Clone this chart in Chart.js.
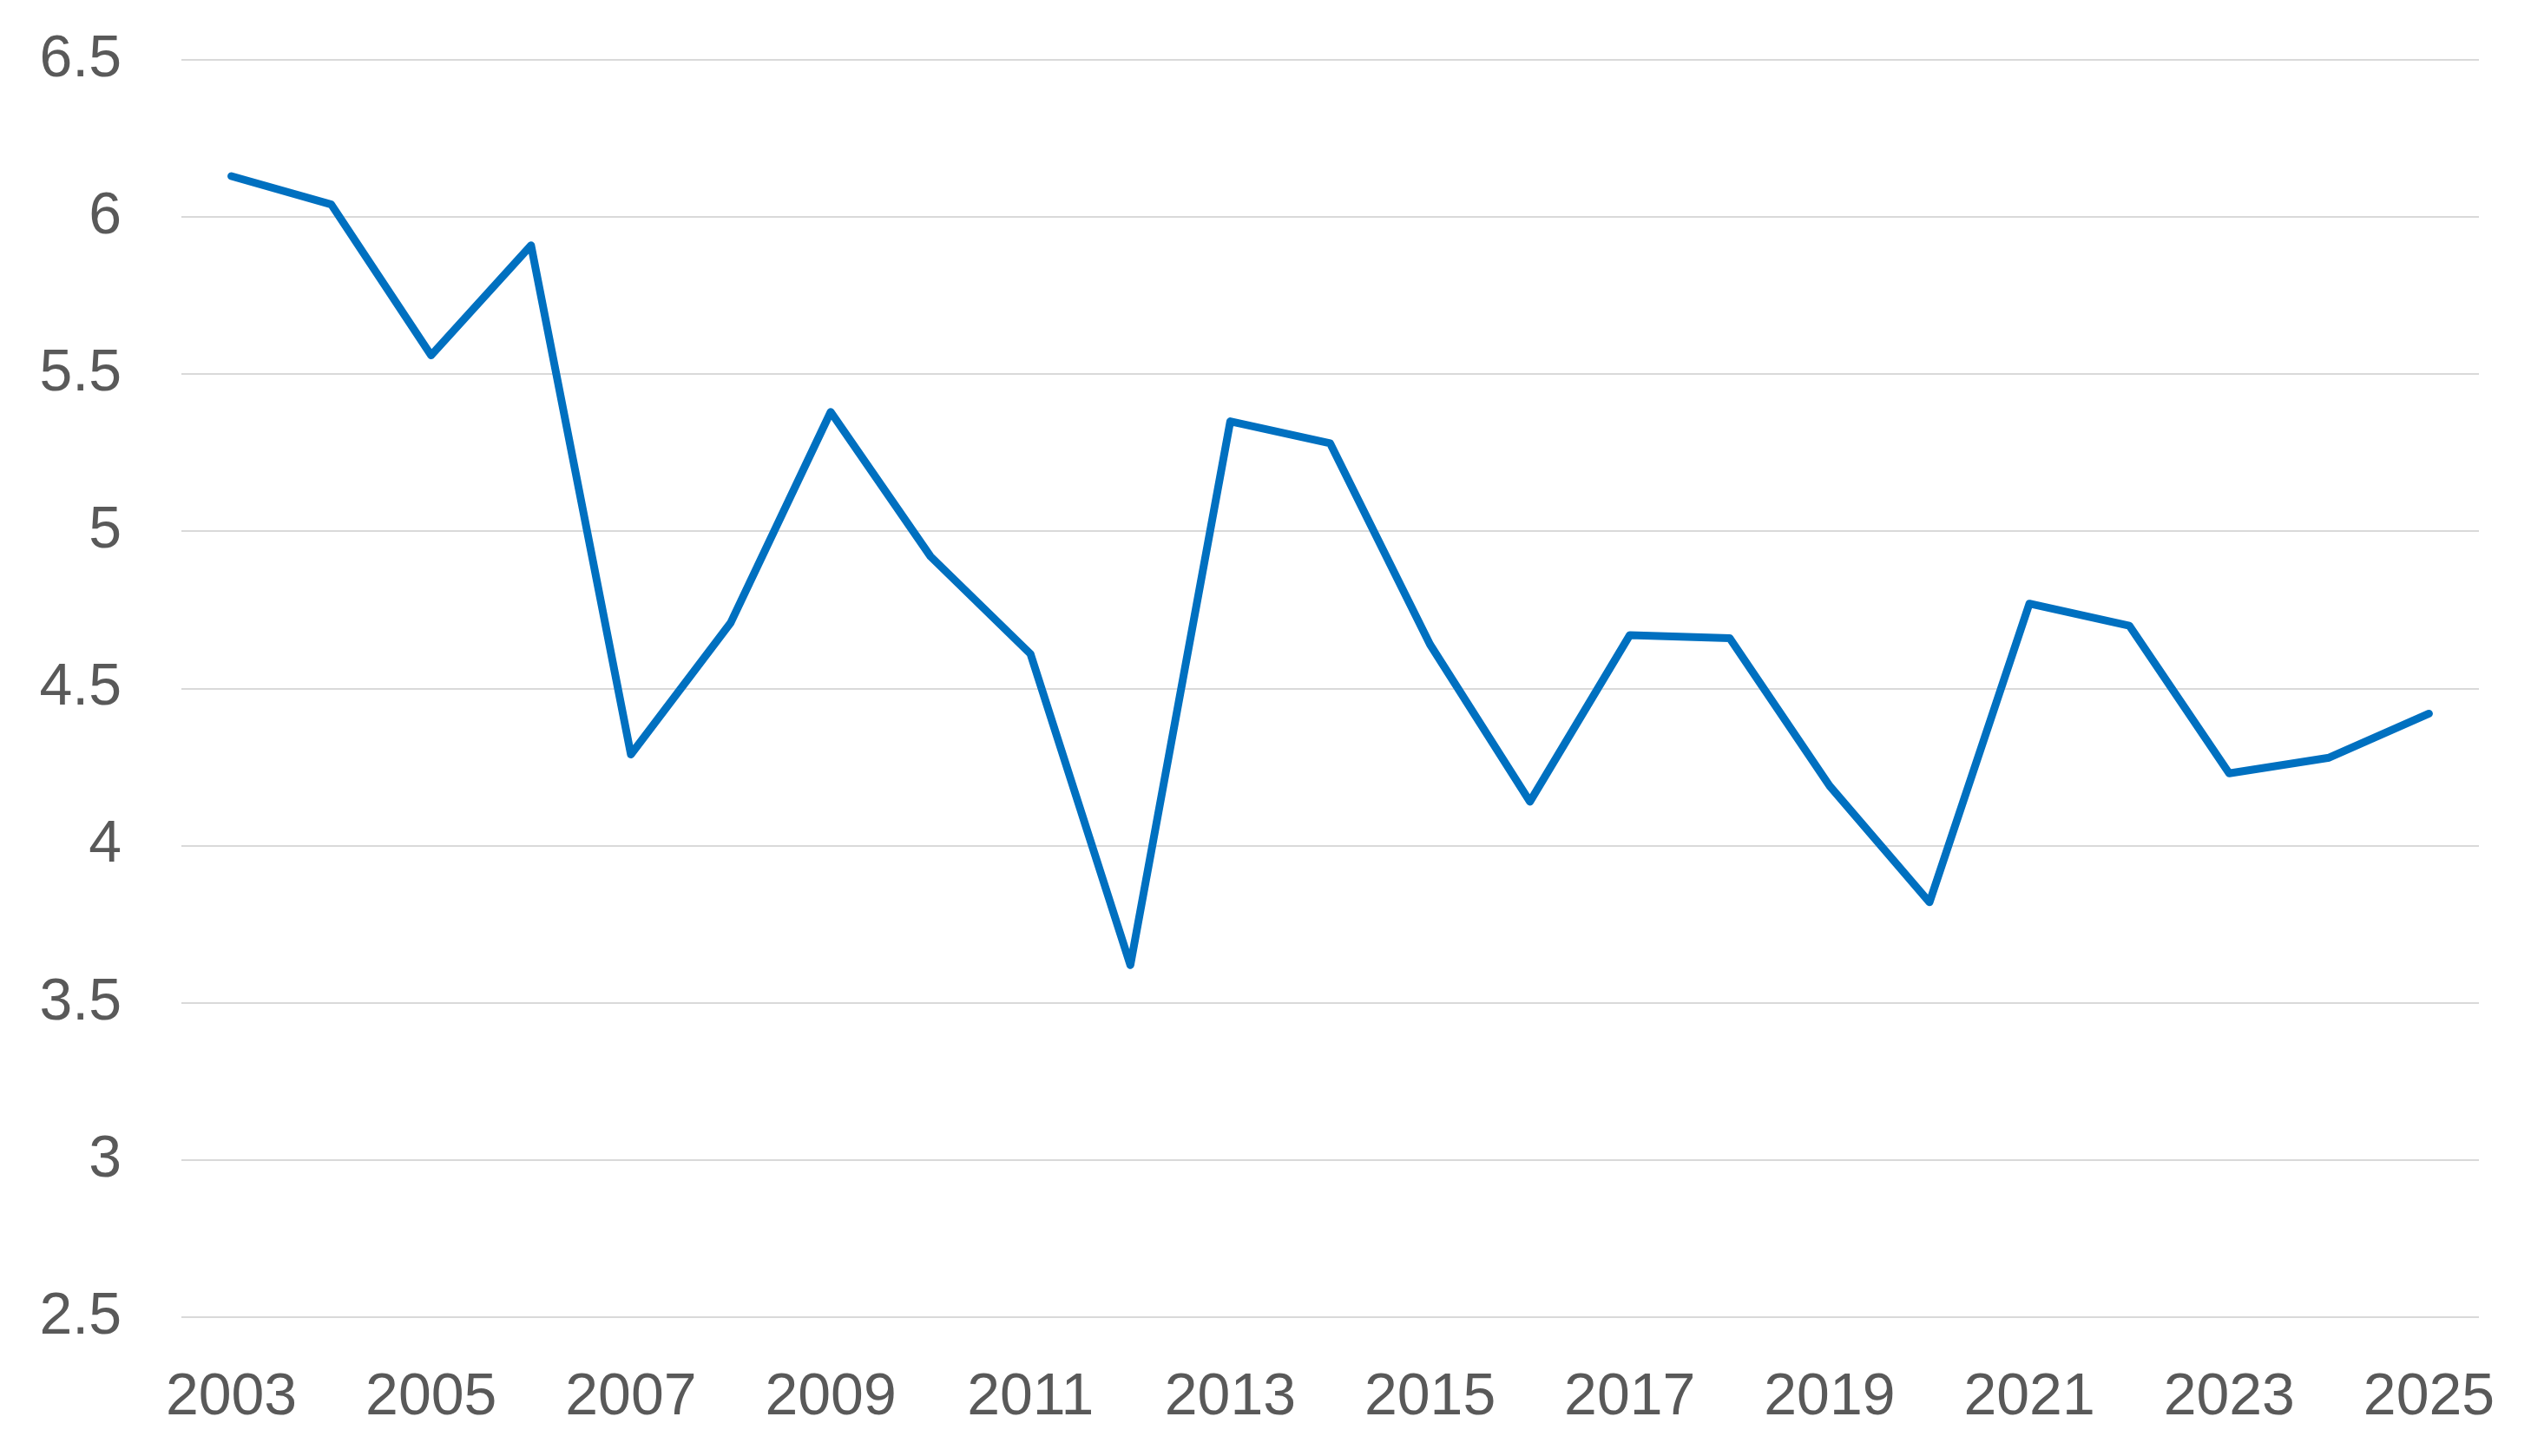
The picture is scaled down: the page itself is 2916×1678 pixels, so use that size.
<!DOCTYPE html>
<html>
<head>
<meta charset="utf-8">
<script src="https://cdn.jsdelivr.net/npm/chart.js@4"></script>
<style>
  html, body { margin: 0; padding: 0; background: #fff; }
  #wrap { width: 100vw; height: 100vh; }
</style>
</head>
<body>
<div id="wrap"><canvas id="line-chart-canvas"></canvas></div>
<script>
const years = ["2003", "2004", "2005", "2006", "2007", "2008", "2009", "2010", "2011", "2012", "2013",
  "2014", "2015", "2016", "2017", "2018", "2019", "2020", "2021", "2022", "2023", "2024", "2025"];
const values = [6.13, 6.04, 5.56, 5.91, 4.29, 4.71, 5.38, 4.92, 4.61, 3.62, 5.35,
  5.28, 4.64, 4.14, 4.67, 4.66, 4.19, 3.82, 4.77, 4.70, 4.23, 4.28, 4.42];
const yMin = 2.5;
const yMax = 6.5;
const yStep = 0.5;

const labelColor = "#595959";
const labelFont = { family: "'Liberation Sans', Arial, sans-serif", size: 68 };

// Line Chart
const lineChart = document.getElementById("line-chart-canvas");

new Chart(lineChart, {
  type: "line",
  data: {
    labels: years,
    datasets: [
      {
        data: values,
        borderColor: "#0070C0",
        borderWidth: 9,
        pointRadius: 0,
        tension: 0,
        borderJoinStyle: "round",
        borderCapStyle: "round",
      },
    ],
  },
  options: {
    responsive: true,
    maintainAspectRatio: false,
    animation: false,
    layout: { padding: { top: 69, right: 60, bottom: 0, left: 0 } },
    plugins: {
      legend: { display: false },
      tooltip: { enabled: false },
    },
    scales: {
      x: {
        offset: true,
        grid: { display: false },
        border: { display: false },
        afterFit: (scale) => {
          scale.height = 160;
          scale.paddingLeft = 0;
          scale.paddingRight = 0;
        },
        ticks: {
          autoSkip: false,
          maxRotation: 0,
          padding: 44,
          color: labelColor,
          font: labelFont,
          callback: (val, idx) => (idx % 2 === 0 ? years[idx] : ""),
        },
      },
      y: {
        min: yMin,
        max: yMax,
        border: { display: false },
        grid: { color: "#D9D9D9", lineWidth: 2, drawTicks: false },
        afterFit: (scale) => {
          scale.width = 209;
          scale.paddingTop = 0;
          scale.paddingBottom = 0;
        },
        ticks: {
          stepSize: yStep,
          padding: 69,
          color: labelColor,
          font: labelFont,
          callback: (v) => String(v),
        },
      },
    },
  },
});
</script>
</body>
</html>
